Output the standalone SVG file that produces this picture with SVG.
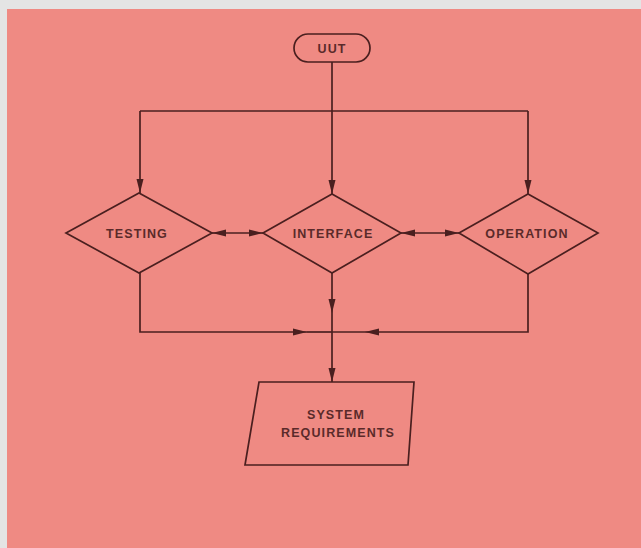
<svg xmlns="http://www.w3.org/2000/svg" width="641" height="548" viewBox="0 0 641 548">
<style>
.shape{fill:none;stroke:#4a1f1f;stroke-width:1.7;stroke-linejoin:miter}
.line{fill:none;stroke:#4a1f1f;stroke-width:1.7}
.lbl{font-family:"Liberation Sans",Arial,sans-serif;font-weight:bold;font-size:12.5px;fill:#5a2a2a;text-anchor:middle;letter-spacing:1.1px}
</style>
<defs>
<marker id="ah" viewBox="0 0 14 8" refX="14" refY="4" markerWidth="14" markerHeight="8" markerUnits="userSpaceOnUse" orient="auto-start-reverse">
<path d="M0,0.5 L14,4 L0,7.5 Z" fill="#4a1f1f"/>
</marker>
</defs>
<rect x="0" y="0" width="641" height="548" fill="#e4e4e4"/>
<rect x="7" y="9" width="634" height="539" fill="#ef8a83"/>
<g id="connectors">
<line class="line" x1="332" y1="62" x2="332" y2="194" marker-end="url(#ah)"/>
<polyline class="line" points="140,111 528,111"/>
<line class="line" x1="140" y1="111" x2="140" y2="193" marker-end="url(#ah)"/>
<line class="line" x1="528" y1="111" x2="528" y2="194" marker-end="url(#ah)"/>
<line class="line" x1="212" y1="233" x2="263" y2="233" marker-start="url(#ah)" marker-end="url(#ah)"/>
<line class="line" x1="401" y1="233" x2="459" y2="233" marker-start="url(#ah)" marker-end="url(#ah)"/>
<line class="line" x1="332" y1="273" x2="332" y2="313" marker-end="url(#ah)"/>
<line class="line" x1="332" y1="313" x2="332" y2="382" marker-end="url(#ah)"/>
<polyline class="line" points="140,273 140,332 307,332" marker-end="url(#ah)"/>
<line class="line" x1="307" y1="332" x2="332" y2="332"/>
<polyline class="line" points="528,274 528,332 365,332" marker-end="url(#ah)"/>
<line class="line" x1="365" y1="332" x2="332" y2="332"/>
</g>
<g id="uut">
<rect class="shape" x="294" y="34" width="76" height="28" rx="14" ry="14"/>
<text class="lbl" x="332" y="52.5">UUT</text>
</g>
<g id="testing">
<polygon class="shape" points="66,233 139,193 212,233 139,273"/>
<text class="lbl" x="137" y="238">TESTING</text>
</g>
<g id="interface">
<polygon class="shape" points="263,233 332,194 401,233 332,273"/>
<text class="lbl" x="333" y="238">INTERFACE</text>
</g>
<g id="operation">
<polygon class="shape" points="459,233 528,194 598,233 528,274"/>
<text class="lbl" x="527" y="238">OPERATION</text>
</g>
<g id="system-requirements">
<polygon class="shape" points="259,382 414,382 408,465 245,465"/>
<text class="lbl" x="336" y="419">SYSTEM</text>
<text class="lbl" x="338" y="437">REQUIREMENTS</text>
</g>
</svg>
